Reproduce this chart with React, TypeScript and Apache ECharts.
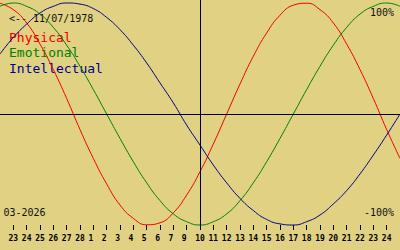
import React, { useEffect, useRef } from "react";
import * as echarts from "echarts";

// Day offsets from the centre day (10 March 2026)
const dayOffsets = [-15, -14, -13, -12, -11, -10, -9, -8, -7, -6, -5, -4, -3, -2, -1, 0, 1, 2, 3, 4, 5, 6, 7, 8, 9, 10, 11, 12, 13, 14, 15];

const physical = [0.998, 0.94, 0.82, 0.63, 0.40, 0.14, -0.14, -0.40, -0.63, -0.82, -0.94, -0.998, -0.98, -0.89, -0.73, -0.52, -0.27, 0.0, 0.27, 0.52, 0.73, 0.89, 0.98, 0.998, 0.94, 0.82, 0.63, 0.40, 0.14, -0.14, -0.40];
const emotional = [0.97, 1.0, 0.97, 0.90, 0.78, 0.62, 0.43, 0.22, 0.0, -0.22, -0.43, -0.62, -0.78, -0.90, -0.97, -1.0, -0.97, -0.90, -0.78, -0.62, -0.43, -0.22, 0.0, 0.22, 0.43, 0.62, 0.78, 0.90, 0.97, 1.0, 0.97];
const intellectual = [0.54, 0.69, 0.81, 0.91, 0.97, 1.0, 0.99, 0.95, 0.87, 0.76, 0.62, 0.46, 0.28, 0.10, -0.10, -0.28, -0.46, -0.62, -0.76, -0.87, -0.95, -0.99, -1.0, -0.97, -0.91, -0.81, -0.69, -0.54, -0.37, -0.19, 0.0];

// Tick positions (day offsets) and their labels
const tickDays = [-14, -13, -12, -11, -10, -9, -8, -7, -6, -5, -4, -3, -2, -1, 0, 1, 2, 3, 4, 5, 6, 7, 8, 9, 10, 11, 12, 13, 14];
const tickLabels = ["23", "24", "25", "26", "27", "28", "1", "2", "3", "4", "5", "6", "7", "9", "10", "11", "12", "13", "14", "15", "16", "17", "18", "19", "20", "21", "22", "23", "24"];

const birthText = "<-- 11/07/1978";
const monthText = "03-2026";
const topText = "100%";
const bottomText = "-100%";
const seriesNames = ["Physical", "Emotional", "Intellectual"];
const seriesColors = ["#ee0000", "#008000", "#00008b"];

const MONO = "'DejaVu Sans Mono', monospace";

export default function App() {
  const ref = useRef<HTMLDivElement>(null);

  useEffect(() => {
    document.body.style.margin = "0";
    const chart = echarts.init(ref.current!, undefined, { renderer: "svg" });
    const seriesData = [physical, emotional, intellectual];
    const labelMap: Record<string, string> = {};
    tickDays.forEach((d, i) => {
      const l = tickLabels[i];
      labelMap[String(d)] = l.length === 1 ? l + "\u00a0" : l;
    });

    chart.setOption({
      animation: false,
      backgroundColor: "#e0d183",
      grid: { left: 0, right: 0, top: 0, bottom: 22 },
      xAxis: {
        type: "value",
        min: -15,
        max: 15,
        interval: 1,
        offset: -3,
        axisLine: { show: false, onZero: false },
        splitLine: { show: false },
        axisTick: {
          show: true,
          customValues: tickDays,
          length: 5,
          lineStyle: { color: "#000", width: 1 },
        },
        axisLabel: {
          customValues: tickDays,
          margin: 9,
          fontFamily: MONO,
          fontSize: 8,
          fontWeight: "bold",
          color: "#000",
          formatter: (v: number) => labelMap[String(v)] ?? "",
        },
      },
      yAxis: {
        type: "value",
        min: -1.027,
        max: 1.027,
        show: false,
        splitLine: { show: false },
      },
      series: seriesData.map((vals, i) => ({
        name: seriesNames[i],
        type: "line",
        smooth: true,
        showSymbol: false,
        symbol: "none",
        data: dayOffsets.map((d, j) => [d, vals[j]]),
        lineStyle: { color: seriesColors[i], width: 1 },
        itemStyle: { color: seriesColors[i] },
        markLine:
          i === 0
            ? {
                silent: true,
                symbol: "none",
                label: { show: false },
                lineStyle: { color: "#000", type: "solid", width: 1 },
                data: [{ xAxis: 0 }, { yAxis: 0 }],
              }
            : undefined,
      })),
      graphic: [
        {
          type: "text",
          left: 9,
          top: 13,
          style: { text: birthText, fill: "#111", font: `10px ${MONO}` },
        },
        ...seriesNames.map((n, i) => ({
          type: "text",
          left: 9,
          top: 31 + i * 15.3,
          style: { text: n, fill: seriesColors[i], font: `13px ${MONO}` },
        })),
        {
          type: "text",
          right: 6,
          top: 7,
          style: { text: topText, fill: "#111", font: `10px ${MONO}` },
        },
        {
          type: "text",
          right: 6,
          top: 207,
          style: { text: bottomText, fill: "#111", font: `10px ${MONO}` },
        },
        {
          type: "text",
          left: 3.5,
          top: 207,
          style: { text: monthText, fill: "#111", font: `10px ${MONO}` },
        },
      ],
    });
    return () => chart.dispose();
  }, []);

  return <div ref={ref} style={{ width: 400, height: 250 }} />;
}
